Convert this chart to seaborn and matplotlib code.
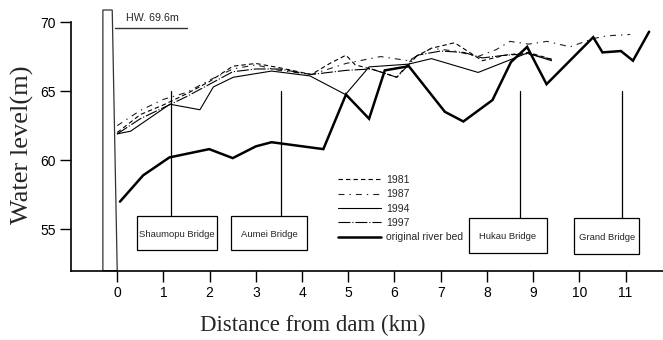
import matplotlib
matplotlib.use("Agg")
import matplotlib.pyplot as plt
from matplotlib.patches import Rectangle, Polygon
import seaborn as sns
import pandas as pd

# Water level profiles along the reservoir (distance from dam in km, level in m)
km_1981 = [0.0, 0.5, 1.0, 1.5, 2.0, 2.5, 3.0, 3.5, 4.2, 4.6, 4.95, 5.15, 5.6, 6.05, 6.4, 6.8, 7.3, 7.9, 8.4, 8.9, 9.4]
wl_1981 = [62.0, 63.3, 64.0, 64.8, 65.7, 66.8, 67.0, 66.7, 66.2, 67.0, 67.6, 66.9, 66.5, 66.0, 67.4, 68.1, 68.5, 67.2, 67.6, 67.8, 67.3]

km_1987 = [0.0, 0.5, 1.0, 1.5, 2.0, 2.5, 3.0, 3.5, 4.2, 4.95, 5.7, 6.3, 6.8, 7.3, 7.8, 8.2, 8.5, 8.9, 9.3, 9.8, 10.3, 10.6, 11.1]
wl_1987 = [62.5, 63.6, 64.4, 64.9, 65.8, 66.6, 66.9, 66.5, 66.2, 67.0, 67.5, 67.2, 68.1, 67.9, 67.5, 68.0, 68.6, 68.4, 68.6, 68.2, 68.8, 69.0, 69.1]

km_1994 = [0.0, 0.29, 1.14, 1.79, 2.08, 2.51, 3.34, 4.17, 4.94, 5.45, 6.3, 6.8, 7.81, 8.87, 9.4]
wl_1994 = [61.9, 62.1, 64.05, 63.65, 65.3, 66.0, 66.45, 66.1, 64.75, 66.75, 66.95, 67.35, 66.35, 67.75, 67.2]

km_1997 = [0.0, 0.5, 1.0, 1.5, 2.0, 2.5, 3.0, 3.5, 4.2, 4.95, 5.5, 6.05, 6.5, 7.0, 7.5, 7.9, 8.4, 8.9, 9.4]
wl_1997 = [61.9, 63.0, 63.8, 64.6, 65.5, 66.4, 66.6, 66.6, 66.2, 66.5, 66.6, 66.0, 67.6, 67.9, 67.8, 67.4, 67.6, 67.7, 67.3]

km_bed = [0.06, 0.56, 1.13, 1.99, 2.5, 3.0, 3.34, 4.46, 4.95, 5.45, 5.79, 6.31, 7.09, 7.49, 8.12, 8.52, 8.87, 9.29, 10.3, 10.5, 10.9, 11.16, 11.51]
wl_bed = [57.0, 58.9, 60.2, 60.8, 60.15, 61.0, 61.3, 60.8, 64.75, 63.0, 66.5, 66.8, 63.5, 62.8, 64.35, 67.1, 68.2, 65.5, 68.9, 67.8, 67.9, 67.2, 69.3]

series_labels = ["1981", "1987", "1994", "1997", "original river bed"]

# Bridges: name, location (km), box span (km) and box span (m)
bridge_names = ["Shaumopu Bridge", "Aumei Bridge", "Hukau Bridge", "Grand Bridge"]
bridge_km = [1.165, 3.54, 8.72, 10.92]
bridge_box_x = [(0.433, 2.152), (2.468, 4.10), (7.606, 9.294), (9.892, 11.299)]
bridge_box_y = [(53.53, 55.96), (53.53, 55.96), (53.31, 55.82), (53.19, 55.82)]
bridge_top = 65.0

hw_level = 69.6
hw_text = "HW. 69.6m"

x_ticks = list(range(0, 12))
y_ticks = [55, 60, 65, 70]

sns.set_theme(style="ticks")
plt.rcParams["font.family"] = ["Liberation Sans", "DejaVu Sans"]
plt.rcParams["lines.scale_dashes"] = False

fig = plt.figure(figsize=(6.63, 3.40), dpi=100)
ax = fig.add_axes([71 / 663, 1 - 270.7 / 340, 1 - 71 / 663, (270.7 - 8.2) / 340])

styles = {
    "1981": dict(color="black", lw=0.8, dashes=(3.2, 2.2)),
    "1987": dict(color="#222222", lw=0.8, dashes=(4.3, 3.6, 1.0, 3.6)),
    "1994": dict(color="black", lw=0.8),
    "1997": dict(color="black", lw=0.8, dashes=(8.6, 1.4, 0.8, 1.4)),
    "original river bed": dict(color="black", lw=1.8),
}

data = {
    "1981": (km_1981, wl_1981),
    "1987": (km_1987, wl_1987),
    "1994": (km_1994, wl_1994),
    "1997": (km_1997, wl_1997),
    "original river bed": (km_bed, wl_bed),
}

handles = []
for name in series_labels:
    xs, ys = data[name]
    df = pd.DataFrame({"km": xs, "level": ys})
    st = styles[name]
    sns.lineplot(data=df, x="km", y="level", ax=ax, sort=False, estimator=None,
                 color=st["color"], linewidth=st["lw"], label=name)
    line = ax.lines[-1]
    if "dashes" in st:
        line.set_dashes(st["dashes"])
    line.set_solid_joinstyle("miter")
    handles.append(line)

# Dam body
dam = Polygon([(-0.31, 52.0), (-0.31, 70.87), (-0.108, 70.87), (0.0, 52.0)],
              closed=True, fill=False, edgecolor="#333333", lw=0.9, clip_on=False)
ax.add_patch(dam)

# High water mark
ax.plot([-0.05, 1.5], [hw_level, hw_level], color="#333333", lw=1.0, clip_on=False)
ax.text(0.2, 70.07, hw_text, fontsize=7.7, va="baseline", ha="left")

# Bridges
for name, bk, (bx0, bx1), (by0, by1) in zip(bridge_names, bridge_km, bridge_box_x, bridge_box_y):
    ax.plot([bk, bk], [by1, bridge_top], color="black", lw=0.9)
    ax.add_patch(Rectangle((bx0, by0), bx1 - bx0, by1 - by0, fill=False,
                           edgecolor="black", lw=0.9))
    ax.text((bx0 + bx1) / 2, (by0 + by1) / 2 - 0.1, name, fontsize=6.8,
            ha="center", va="center")

ax.set_xlim(-1.0, 11.81)
ax.set_ylim(52.0, 71.0)
ax.set_xticks(x_ticks)
ax.set_yticks(y_ticks)
ax.tick_params(axis="both", direction="out", length=8, width=1.0, labelsize=10,
               pad=3, color="black", labelcolor="black")
for side in ["top", "right"]:
    ax.spines[side].set_visible(False)
for side in ["left", "bottom"]:
    ax.spines[side].set_color("black")
    ax.spines[side].set_linewidth(1.2)
ax.spines["left"].set_bounds(52.0, 70.0)

ax.set_xlabel("Distance from dam (km)", family=["Liberation Serif"], fontsize=16.5)
ax.set_ylabel("Water level(m)", family=["Liberation Serif"], fontsize=19)
# axis label placement in figure pixels
ax.xaxis.set_label_coords(313 / 663, 1 - 325 / 340, transform=fig.transFigure)
ax.xaxis.label.set_va("center")
ax.yaxis.set_label_coords(22 / 663, 1 - 145 / 340, transform=fig.transFigure)
ax.yaxis.label.set_va("center")

leg = ax.legend(handles=handles, labels=series_labels, loc="upper left",
                bbox_to_anchor=(338 / 663, 1 - 175 / 340), bbox_transform=fig.transFigure,
                frameon=False, handlelength=4.1, handletextpad=0.5, labelspacing=0.42,
                borderpad=0, borderaxespad=0,
                prop={"family": ["Liberation Sans Narrow", "Liberation Sans"], "size": 7.5})

fig.savefig("out.png", dpi=100)
